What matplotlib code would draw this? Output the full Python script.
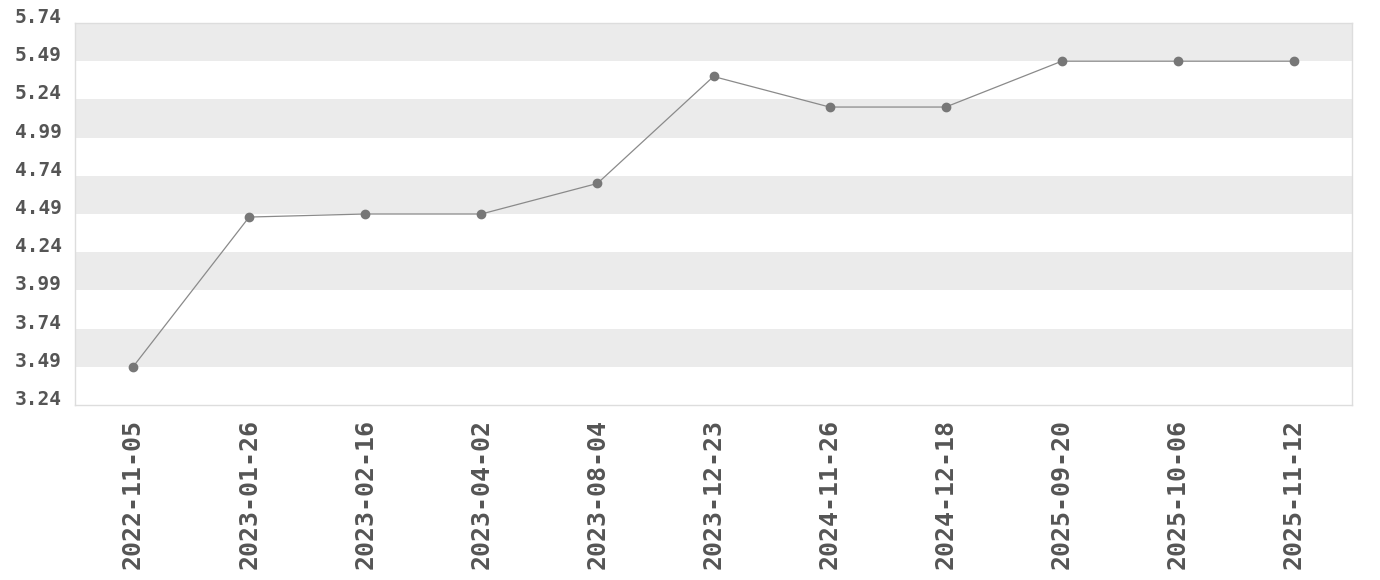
import matplotlib
matplotlib.use("Agg")
import matplotlib.pyplot as plt
import numpy as np

dates = ["2022-11-05", "2023-01-26", "2023-02-16", "2023-04-02", "2023-08-04",
         "2023-12-23", "2024-11-26", "2024-12-18", "2025-09-20", "2025-10-06", "2025-11-12"]
values = [3.49, 4.47, 4.49, 4.49, 4.69, 5.39, 5.19, 5.19, 5.49, 5.49, 5.49]
yticks = [3.24, 3.49, 3.74, 3.99, 4.24, 4.49, 4.74, 4.99, 5.24, 5.49, 5.74]

fig = plt.figure(figsize=(13.8, 5.8), dpi=100)
ax = fig.add_axes([75/1380, 1-405/580, (1352-75)/1380, (405-23)/580])

for i in range(len(yticks)-1):
    if i % 2 == 1:
        ax.axhspan(yticks[i], yticks[i+1], color="#ebebeb", lw=0, zorder=0)

x = np.arange(len(dates))
ax.plot(x, values, color="#8a8a8a", lw=0.9, marker="o", markersize=6,
        markerfacecolor="#777777", markeredgecolor="#777777", zorder=3)

ax.set_xlim(-0.5, len(dates)-0.5)
ax.set_ylim(yticks[0], yticks[-1])
ax.set_yticks(yticks)
ax.set_yticklabels([f"{v:.2f}" for v in yticks])
ax.set_xticks(x)
ax.set_xticklabels(dates, rotation=90)

for lab in ax.get_yticklabels():
    lab.set_fontfamily("DejaVu Sans Mono"); lab.set_fontweight("bold")
    lab.set_fontsize(14); lab.set_color("#555555")
    lab.set_verticalalignment("baseline")
for lab in ax.get_xticklabels():
    lab.set_fontfamily("DejaVu Sans Mono"); lab.set_fontweight("bold")
    lab.set_fontsize(18); lab.set_color("#555555")

ax.tick_params(axis="both", length=0)
ax.tick_params(axis="y", pad=9.5)
ax.tick_params(axis="x", pad=10)
for s in ax.spines.values():
    s.set_color("#dddddd"); s.set_linewidth(1)

fig.savefig("out.png", dpi=100)
